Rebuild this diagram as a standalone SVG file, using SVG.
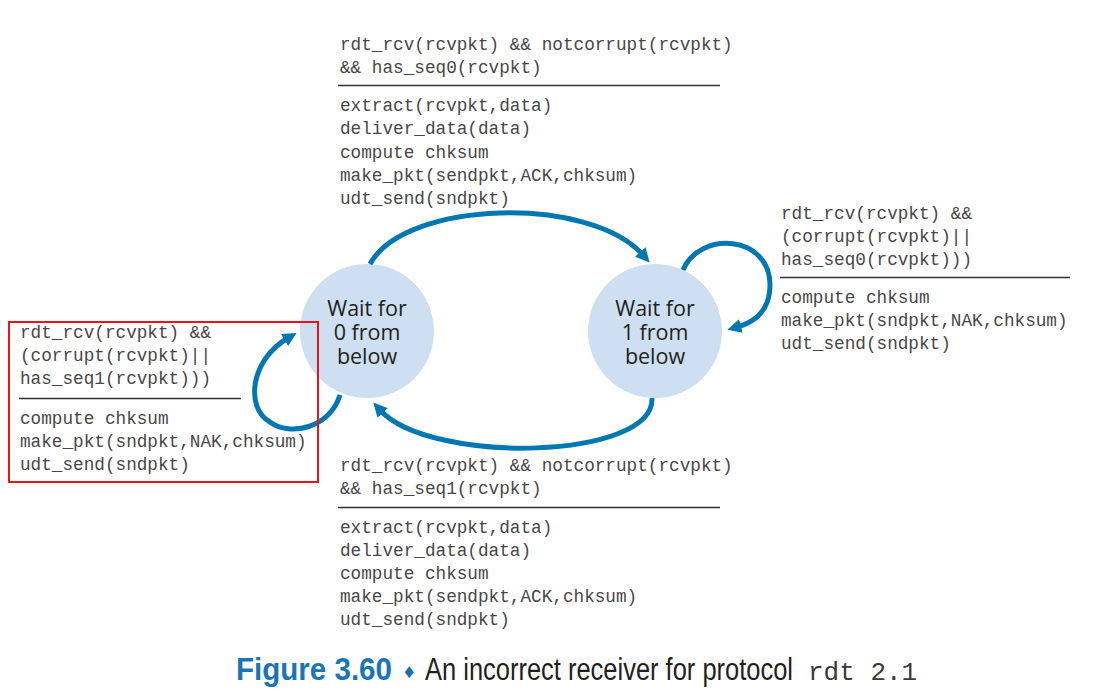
<svg xmlns="http://www.w3.org/2000/svg" width="1094" height="696" viewBox="0 0 1094 696">
<style>
.m{font-family:"Liberation Mono","Courier New",monospace;font-size:17.7px;fill:#474747}
.st{fill:#cddff0}
.sl{font-family:"Open Sans","Liberation Sans",sans-serif;font-size:21.5px;fill:#231f20;text-anchor:middle}
.a{fill:none;stroke:#0077b0;stroke-width:5}
.rule{stroke:#333;stroke-width:1.5}
</style>
<defs>
<marker id="ah" markerUnits="userSpaceOnUse" markerWidth="16" markerHeight="14" viewBox="0 0 16 14" refX="4" refY="7" orient="auto">
<path d="M0,0 L14,7 L0,14 z" fill="#0077b0"/>
</marker>
</defs>
<rect width="1094" height="696" fill="#fff"/>
<g id="s0">
<circle class="st" cx="367" cy="331" r="67"/>
<text class="sl" x="367" y="316">Wait for</text>
<text class="sl" x="367" y="340">0 from</text>
<text class="sl" x="367" y="364">below</text>
</g>
<g id="s1">
<circle class="st" cx="655" cy="331" r="67"/>
<text class="sl" x="655" y="316">Wait for</text>
<text class="sl" x="655" y="340">1 from</text>
<text class="sl" x="655" y="364">below</text>
</g>
<g id="connectors">
<path class="a" d="M370 264 C405 200,590 195,643 255" marker-end="url(#ah)"/>
<path class="a" d="M652 398 C655 460,430 465,380 410" marker-end="url(#ah)"/>
<path class="a" d="M683 270 C700 230,770 235,770 285 C770 310,755 322,737 327" marker-end="url(#ah)"/>
<path class="a" d="M340 395 C330 428,290 437,270 422 C245 408,250 360,288 338" marker-end="url(#ah)"/>
</g>
<g id="label-top">
<text class="m" x="340" y="50">rdt_rcv(rcvpkt) &amp;&amp; notcorrupt(rcvpkt)</text>
<text class="m" x="340" y="73">&amp;&amp; has_seq0(rcvpkt)</text>
<line class="rule" x1="338" y1="85.5" x2="720" y2="85.5"/>
<text class="m" x="340" y="111">extract(rcvpkt,data)</text>
<text class="m" x="340" y="134">deliver_data(data)</text>
<text class="m" x="340" y="158">compute chksum</text>
<text class="m" x="340" y="181">make_pkt(sendpkt,ACK,chksum)</text>
<text class="m" x="340" y="204">udt_send(sndpkt)</text>
</g>
<g id="label-right">
<text class="m" x="781" y="219">rdt_rcv(rcvpkt) &amp;&amp;</text>
<text class="m" x="781" y="242">(corrupt(rcvpkt)||</text>
<text class="m" x="781" y="265">has_seq0(rcvpkt)))</text>
<line class="rule" x1="780" y1="277.5" x2="1070" y2="277.5"/>
<text class="m" x="781" y="303">compute chksum</text>
<text class="m" x="781" y="326">make_pkt(sndpkt,NAK,chksum)</text>
<text class="m" x="781" y="349">udt_send(sndpkt)</text>
</g>
<g id="label-left">
<rect x="9" y="322" width="309" height="160" fill="none" stroke="#e8141b" stroke-width="2"/>
<text class="m" x="20" y="338">rdt_rcv(rcvpkt) &amp;&amp;</text>
<text class="m" x="20" y="361">(corrupt(rcvpkt)||</text>
<text class="m" x="20" y="384">has_seq1(rcvpkt)))</text>
<line class="rule" x1="19" y1="398.5" x2="241" y2="398.5"/>
<text class="m" x="20" y="424">compute chksum</text>
<text class="m" x="20" y="447">make_pkt(sndpkt,NAK,chksum)</text>
<text class="m" x="20" y="470">udt_send(sndpkt)</text>
</g>
<g id="label-bottom">
<text class="m" x="340" y="471">rdt_rcv(rcvpkt) &amp;&amp; notcorrupt(rcvpkt)</text>
<text class="m" x="340" y="494">&amp;&amp; has_seq1(rcvpkt)</text>
<line class="rule" x1="338" y1="507.5" x2="720" y2="507.5"/>
<text class="m" x="340" y="533">extract(rcvpkt,data)</text>
<text class="m" x="340" y="556">deliver_data(data)</text>
<text class="m" x="340" y="579">compute chksum</text>
<text class="m" x="340" y="602">make_pkt(sendpkt,ACK,chksum)</text>
<text class="m" x="340" y="625">udt_send(sndpkt)</text>
</g>
<g id="caption">
<text x="236" y="680" font-family="'Liberation Sans',Arial,sans-serif" font-weight="bold" font-size="31" fill="#1a75b5" textLength="156" lengthAdjust="spacingAndGlyphs">Figure 3.60</text>
<text x="402" y="678" font-family="'DejaVu Sans',sans-serif" font-size="16" fill="#1a6fae">♦</text>
<text x="425" y="680" font-family="'Liberation Sans',Arial,sans-serif" font-size="31" fill="#231f20" textLength="368" lengthAdjust="spacingAndGlyphs">An incorrect receiver for protocol</text>
<text x="808" y="680" font-family="'Liberation Mono','Courier New',monospace" font-size="26" fill="#3a3a3a">rdt 2.1</text>
</g>
</svg>
